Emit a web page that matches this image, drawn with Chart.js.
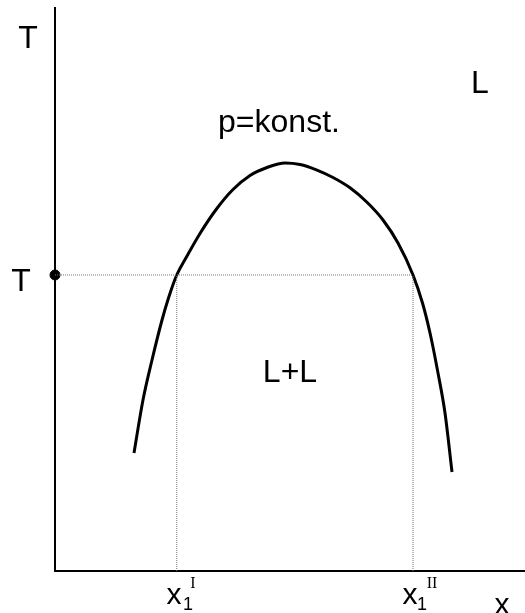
<!DOCTYPE html>
<html>
<head>
<meta charset="utf-8">
<script src="https://cdn.jsdelivr.net/npm/chart.js@4.4.1/dist/chart.umd.min.js"></script>
<style>
  html, body { margin: 0; padding: 0; background: #fff; }
  #wrap { width: 525px; height: 613px; }
</style>
</head>
<body>
<div id="wrap"><canvas id="phaseChart" width="525" height="613"></canvas></div>
<script>
// Mischungslücke (flüssig-flüssig), x und T in relativen Einheiten 0..100
const kurveX = [16.81, 18.72, 20.64, 22.77, 24.15, 25.90, 28.09, 30.85, 34.36, 37.87, 41.49, 45.11, 48.94,
                52.13, 55.74, 59.15, 62.77, 66.38, 69.79, 72.98, 76.17, 78.19, 79.79, 81.49, 82.98, 84.47];
const kurveT = [20.96, 30.37, 37.48, 44.58, 48.49, 52.58, 55.95, 59.95, 64.30, 67.76, 70.25, 71.67, 72.47,
                72.20, 71.21, 69.89, 68.06, 65.49, 62.34, 58.26, 52.58, 47.60, 42.27, 35.17, 28.06, 17.58];

const tWert = 52.58;         // gewählte Temperatur T
const x1I = 25.90;           // x1^I
const x1II = 76.17;          // x1^II

const kurve = kurveX.map((x, i) => ({ x: x, y: kurveT[i] }));
const hilfslinie = { borderColor: '#777', borderWidth: 1, borderDash: [1, 1], pointRadius: 0, showLine: true, fill: false };

// Beschriftungen direkt auf die Zeichenfläche
const beschriftung = {
  id: 'beschriftung',
  afterDraw(chart) {
    const ctx = chart.ctx;
    ctx.save();
    ctx.fillStyle = '#000';
    ctx.textAlign = 'center';
    ctx.textBaseline = 'alphabetic';
    const txt = (s, x, y, size, fam) => {
      ctx.font = size + 'px ' + (fam || '"Liberation Sans", Arial, sans-serif');
      ctx.fillText(s, x, y);
    };
    txt('T', 28, 48, 32);
    txt('T', 21, 291, 32);
    txt('L', 480, 93, 32);
    txt('p=konst.', 279, 132, 32);
    txt('L+L', 290, 382, 32);
    // x1^I und x1^II
    txt('x', 174, 604, 30);
    txt('1', 188, 610, 18);
    txt('I', 193, 588, 16, '"Liberation Serif", serif');
    txt('x', 410, 604, 30);
    txt('1', 422, 610, 18);
    txt('II', 432, 588, 16, '"Liberation Serif", serif');
    txt('x', 502, 614, 30);
    ctx.restore();
  }
};

new Chart(document.getElementById('phaseChart'), {
  type: 'scatter',
  data: {
    datasets: [
      Object.assign({ data: [{ x: 0, y: tWert }, { x: x1II, y: tWert }] }, hilfslinie),
      Object.assign({ data: [{ x: x1I, y: 0 }, { x: x1I, y: tWert }] }, hilfslinie),
      Object.assign({ data: [{ x: x1II, y: 0 }, { x: x1II, y: tWert }] }, hilfslinie),
      {
        data: kurve,
        showLine: true,
        borderColor: '#000',
        borderWidth: 3,
        cubicInterpolationMode: 'monotone',
        pointRadius: 0,
        fill: false
      },
      {
        data: [{ x: 0, y: tWert }],
        pointRadius: 5,
        pointBackgroundColor: '#000',
        pointBorderColor: '#000',
        clip: false
      }
    ]
  },
  options: {
    responsive: false,
    animation: false,
    layout: { autoPadding: false, padding: { left: 55, top: 8, right: 0, bottom: 42 } },
    plugins: { legend: { display: false }, tooltip: { enabled: false } },
    scales: {
      x: {
        type: 'linear', min: 0, max: 100,
        grid: { display: false },
        ticks: { display: false, padding: 0 },
        border: { display: true, color: '#000', width: 2 },
        afterFit(scale) { scale.height = 0; scale.paddingLeft = 0; scale.paddingRight = 0; }
      },
      y: {
        type: 'linear', min: 0, max: 100,
        grid: { display: false },
        ticks: { display: false, padding: 0 },
        border: { display: true, color: '#000', width: 2 },
        afterFit(scale) { scale.width = 0; }
      }
    }
  },
  plugins: [beschriftung]
});
</script>
</body>
</html>
